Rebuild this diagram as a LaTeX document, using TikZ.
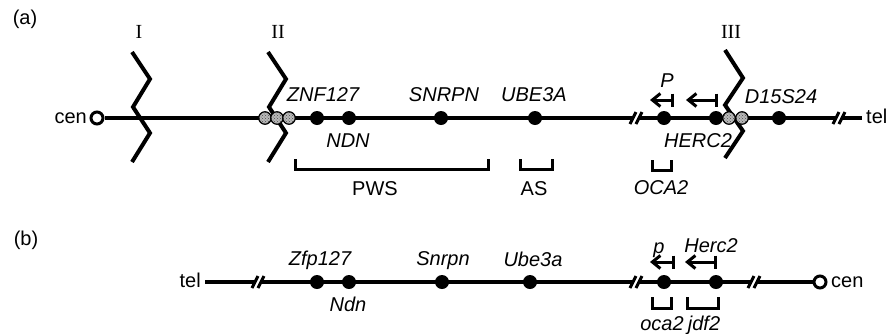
\documentclass[tikz,border=0pt]{standalone}
\usepackage{fontspec}
\setmainfont{Liberation Sans}
\newfontfamily\romfont{Liberation Serif}
\usetikzlibrary{arrows.meta,patterns}

\tikzset{
  chrom/.style={line width=3.2pt},
  gene/.style={circle, fill=black, inner sep=0pt, minimum size=14pt},
  hatchdot/.style={circle, draw=black, line width=1.2pt, preaction={fill=gray!55},
    pattern=crosshatch dots, pattern color=black!70, inner sep=0pt, minimum size=12.5pt},
  endcirc/.style={circle, draw=black, line width=3pt, fill=white, inner sep=0pt, minimum size=12pt},
  lbl/.style={font=\fontsize{20}{24}\selectfont\itshape, anchor=base, inner sep=0pt},
  txt/.style={font=\fontsize{20}{24}\selectfont, anchor=base, inner sep=0pt},
  roman/.style={font=\fontsize{20}{24}\selectfont\romfont, anchor=base, inner sep=0pt},
  zig/.style={line width=4pt, line join=miter},
  bracketline/.style={line width=3pt, line cap=rect},
  dirarrow/.style={line width=3pt, {Straight Barb[length=8pt,width=13pt,line width=3pt]}-{Bar[width=13pt,line width=3pt]}},
  pics/brkmark/.style={code={
    \fill[white] (-5.5,3.4) -- (-2.5,-3.4) -- (3.5,-3.4) -- (0.5,3.4) -- cycle;
    \draw[line width=3pt] (-7,6) -- (-1,-6);
    \draw[line width=3pt] (-1,6) -- (5,-6);
  }}
}

\begin{document}
\begin{tikzpicture}[x=1pt,y=-1pt]
\useasboundingbox (0,0) rectangle (889,333);

% ---------------- (a) human chromosome 15 ----------------
\node[txt] (labA) at (25,24) {(a)};

\node[endcirc] (cenA) at (97,118) {};
\coordinate (telAend) at (862,118);
\draw[chrom] (cenA) -- (telAend);
\node[txt, anchor=base west] (telA) at (866,123) {tel};
\node[txt, anchor=base east] (cenAl) at (87,123) {cen};

\pic at (637,118) {brkmark};
\pic at (840,118) {brkmark};

% breakpoint regions
\draw[zig] (132,52) -- (150,79) -- (133,107) -- (150,133) -- (132,162);
\draw[zig] (268,52) -- (286,79) -- (269,107) -- (286,133) -- (268,162);
\draw[zig] (725,50) -- (743,78) -- (725,105) -- (743,131) -- (725,158);
\node[roman] (bpI) at (139,38) {I};
\node[roman] (bpII) at (278,38) {II};
\node[roman] (bpIII) at (731,38) {III};

% markers at the breakpoints
\node[hatchdot] (hA1) at (265,118) {};
\node[hatchdot] (hA2) at (277,118) {};
\node[hatchdot] (hA3) at (289,118) {};
\node[hatchdot] (hA4) at (729,118) {};
\node[hatchdot] (hA5) at (742,118) {};

% genes
\node[gene] (znf) at (317,118) {};
\node[gene] (ndn) at (349,118) {};
\node[gene] (snrpn) at (441,118) {};
\node[gene] (ube) at (535,118) {};
\node[gene] (pA) at (664,118) {};
\node[gene] (hercA) at (716,118) {};
\node[gene] (d15) at (779,118) {};

\node[lbl] at (323,101) {ZNF127};
\node[lbl] at (444,101) {SNRPN};
\node[lbl] at (534,101) {UBE3A};
\node[lbl] at (348,147) {NDN};
\node[lbl] at (781,103) {D15S24};
\node[lbl] at (698,147) {HERC2};
\node[lbl] at (667,87) {P};

% transcription direction
\coordinate (pAtip) at (650,100);
\coordinate (pAbar) at (674,100);
\coordinate (hAtip) at (686,100);
\coordinate (hAbar) at (718,100);
\draw[dirarrow] (pAtip) -- (pAbar);
\draw[dirarrow] (hAtip) -- (hAbar);

% deletion intervals
\draw[bracketline] (295,160) -- (295,169) -- (488,169) -- (488,160);
\draw[bracketline] (520,160) -- (520,169) -- (552,169) -- (552,160);
\draw[bracketline] (652,161) -- (652,170) -- (671,170) -- (671,161);
\node[txt] at (375,195) {PWS};
\node[txt] at (534,195) {AS};
\node[lbl] at (661,194) {OCA2};

% ---------------- (b) mouse chromosome 7 ----------------
\node[txt] (labB) at (26,245) {(b)};

\coordinate (telBend) at (205,282);
\node[endcirc] (cenB) at (820,282) {};
\draw[chrom] (telBend) -- (cenB);
\node[txt, anchor=base east] (telB) at (201,287) {tel};
\node[txt, anchor=base west] (cenBl) at (831,287) {cen};

\pic at (259,282) {brkmark};
\pic at (637,282) {brkmark};
\pic at (755,282) {brkmark};

\node[gene] (zfp) at (317,282) {};
\node[gene] (ndnB) at (349,282) {};
\node[gene] (snrpnB) at (442,282) {};
\node[gene] (ubeB) at (530,282) {};
\node[gene] (pB) at (664,282) {};
\node[gene] (hercB) at (716,282) {};

\node[lbl] at (320,265) {Zfp127};
\node[lbl] at (348,311) {Ndn};
\node[lbl] at (443,265) {Snrpn};
\node[lbl] at (533,266) {Ube3a};
\node[lbl] at (659,253) {p};
\node[lbl] at (711,252) {Herc2};

\coordinate (pBtip) at (650,262);
\coordinate (pBbar) at (675,262);
\coordinate (hBtip) at (685,262);
\coordinate (hBbar) at (717,262);
\draw[dirarrow] (pBtip) -- (pBbar);
\draw[dirarrow] (hBtip) -- (hBbar);

\draw[bracketline] (652,298) -- (652,308) -- (671,308) -- (671,298);
\draw[bracketline] (687,298) -- (687,308) -- (718,308) -- (718,298);
\node[lbl] at (662,330) {oca2};
\node[lbl] at (704,330) {jdf2};
\end{tikzpicture}
\end{document}
